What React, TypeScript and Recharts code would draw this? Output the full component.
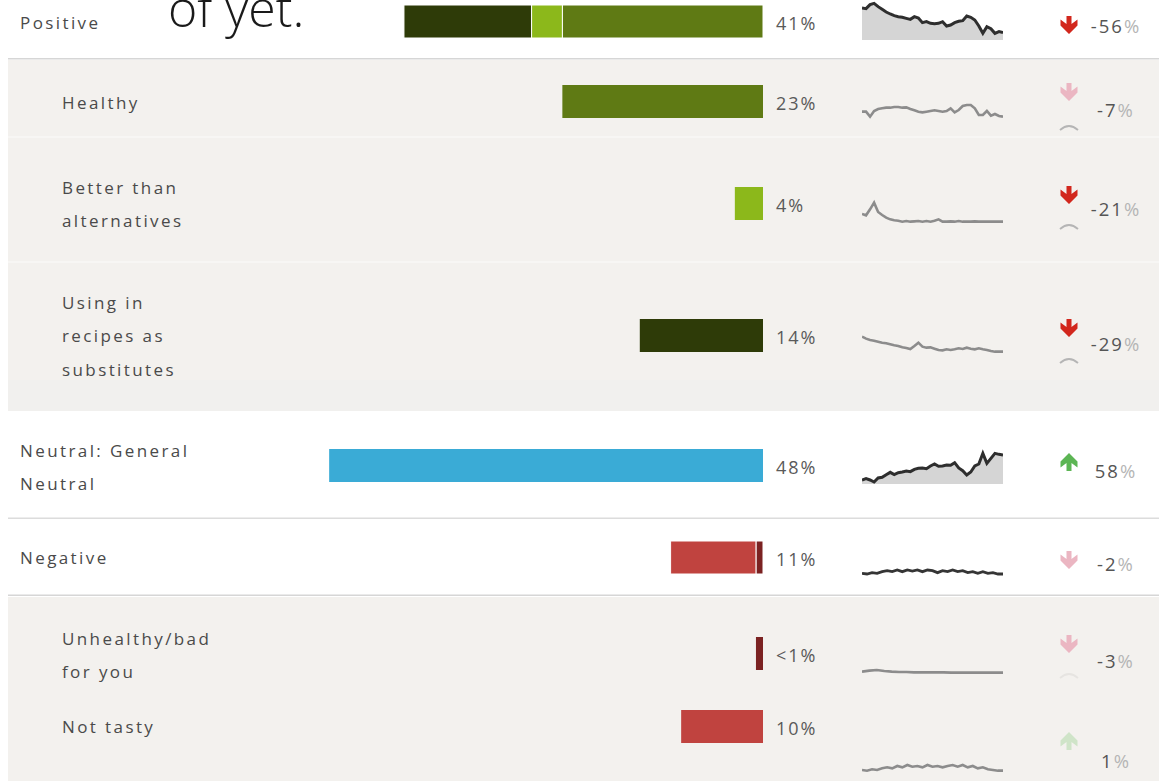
import React from 'react';
import { BarChart, Bar, XAxis, YAxis, AreaChart, Area, LineChart, Line } from 'recharts';

// ---------- DATA ----------
const rowLabels: string[][] = [
  ['Positive'],
  ['Healthy'],
  ['Better than', 'alternatives'],
  ['Using in', 'recipes as', 'substitutes'],
  ['Neutral: General', 'Neutral'],
  ['Negative'],
  ['Unhealthy/bad', 'for you'],
  ['Not tasty'],
];
const shareLabels = ['41%', '23%', '4%', '14%', '48%', '11%', '<1%', '10%'];
const changeValues = ['-56', '-7', '-21', '-29', '58', '-2', '-3', '1'];
const changeDirections = ['down', 'down', 'down', 'down', 'up', 'down', 'down', 'up'];
const changeStrong = [true, false, true, true, true, false, false, false];
const changeConfidenceArc = [false, true, true, true, false, false, true, false];

// bar shares (% of mentions)
const positiveSegments = [22.8, 3.5, 14.5]; // healthy, better than alternatives, recipes
const healthyShare = [22.8];
const betterShare = [3.2];
const recipesShare = [14.0];
const neutralShare = [49.3];
const negativeSegments = [0.8, 9.7]; // unhealthy, not tasty
const unhealthyShare = [0.8];
const notTastyShare = [9.3];

// sparkline trends
const positiveTrend = [96, 94, 106, 110, 100, 92, 84, 78, 73, 70, 68, 65, 62, 70, 66, 52, 55, 50, 49, 50, 55, 42, 45, 52, 56, 58, 72, 68, 60, 42, 20, 40, 34, 20, 25, 22];
const healthyTrend = [40, 40, 25, 42, 48, 50, 52, 52, 54, 54, 52, 53, 48, 44, 40, 38, 40, 42, 44, 42, 40, 42, 50, 38, 45, 57, 60, 60, 50, 30, 30, 42, 28, 33, 27, 25];
const betterTrend = [48, 44, 62, 82, 54, 45, 37, 32, 29, 28, 25, 27, 25, 26, 27, 25, 27, 25, 28, 32, 25, 25, 26, 25, 27, 25, 25, 25, 26, 25, 25, 25, 25, 25, 25, 25];
const recipesTrend = [70, 64, 60, 58, 55, 52, 50, 47, 44, 42, 38, 36, 33, 42, 52, 40, 37, 38, 34, 30, 29, 32, 30, 32, 35, 33, 37, 34, 32, 35, 32, 30, 27, 25, 25, 25];
const neutralTrend = [12, 16, 12, 6, 18, 20, 28, 35, 28, 34, 36, 39, 37, 44, 47, 48, 46, 54, 60, 53, 54, 57, 56, 64, 48, 40, 27, 36, 54, 60, 92, 62, 77, 92, 89, 87];
const negativeTrend = [20, 18, 22, 20, 25, 28, 25, 30, 25, 30, 27, 30, 25, 30, 28, 22, 28, 25, 30, 25, 28, 22, 25, 20, 25, 20, 22, 18, 18];
const unhealthyTrend = [25, 28, 30, 27, 25, 24, 24, 23, 23, 23, 23, 23, 22, 22, 22, 22, 22, 22, 22, 22];
const notTastyTrend = [15, 13, 17, 15, 20, 23, 20, 27, 23, 30, 25, 27, 23, 30, 25, 27, 23, 27, 30, 25, 30, 23, 27, 20, 23, 17, 15, 13, 13];

// ---------- STYLE / LAYOUT ----------
const C_DARK = '#2e3b08';
const C_LIME = '#8cb81b';
const C_GREEN = '#5f7a14';
const C_BLUE = '#3aabd6';
const C_RED = '#c0433f';
const C_DRED = '#7b2222';

const FONT = '"Open Sans", "Noto Sans", sans-serif';

type Seg = { value: number; color: string };
const rowBars: Seg[][] = [
  [
    { value: positiveSegments[0], color: C_GREEN },
    { value: positiveSegments[1], color: C_LIME },
    { value: positiveSegments[2], color: C_DARK },
  ],
  [{ value: healthyShare[0], color: C_GREEN }],
  [{ value: betterShare[0], color: C_LIME }],
  [{ value: recipesShare[0], color: C_DARK }],
  [{ value: neutralShare[0], color: C_BLUE }],
  [
    { value: negativeSegments[0], color: C_DRED },
    { value: negativeSegments[1], color: C_RED },
  ],
  [{ value: unhealthyShare[0], color: C_DRED }],
  [{ value: notTastyShare[0], color: C_RED }],
];

const barTop = [5, 85, 187, 319, 449, 541, 637, 710];
const labelX = [20, 62, 62, 62, 20, 20, 62, 62];
const labelY0 = [22, 102, 187, 302, 450, 557, 638, 726];
const LINE_H = 33.5;

const trends = [positiveTrend, healthyTrend, betterTrend, recipesTrend, neutralTrend, negativeTrend, unhealthyTrend, notTastyTrend];
const sparkTop = [0, 85, 190, 330, 440, 560, 660, 755];
const sparkH = [40, 40, 40, 30, 44, 20, 20, 20];
const sparkMax = [120, 120, 120, 90, 132, 60, 60, 60];
const sparkFilled = [true, false, false, false, true, false, false, false];
const sparkColor = ['#2e2e2e', '#8c8c8c', '#8c8c8c', '#8c8c8c', '#2e2e2e', '#353535', '#8c8c8c', '#8c8c8c'];

const arrowY = [25, 92, 195, 328, 462, 560, 644, 741];
const changeTextY = [25, 109, 208, 343, 470, 563, 660, 760];
const arcY = [0, 127, 226, 360, 0, 0, 675, 0];

const BAR_LEFT = 323;
const BAR_W = 440;
const BAR_H = 33;

function BarRow({ idx }: { idx: number }) {
  const segs = rowBars[idx];
  const datum: Record<string, any> = { name: 'row' };
  segs.forEach((s, i) => (datum['s' + i] = s.value));
  const stacked = segs.length > 1;
  return (
    <div style={{ position: 'absolute', left: BAR_LEFT, top: barTop[idx], width: BAR_W, height: BAR_H }}>
      <BarChart
        width={BAR_W}
        height={BAR_H}
        data={[datum]}
        layout="vertical"
        margin={{ top: 0, right: 0, bottom: 0, left: 0 }}
        barCategoryGap={0}
      >
        <XAxis type="number" domain={[0, 50]} reversed hide />
        <YAxis type="category" dataKey="name" hide />
        {segs.map((s, i) => (
          <Bar
            key={i}
            dataKey={'s' + i}
            stackId="a"
            fill={s.color}
            stroke={stacked ? '#ffffff' : 'none'}
            strokeWidth={stacked ? 1 : 0}
            isAnimationActive={false}
          />
        ))}
      </BarChart>
    </div>
  );
}

function Spark({ idx }: { idx: number }) {
  const data = trends[idx].map((v, i) => ({ i, v }));
  const w = 141;
  const h = sparkH[idx];
  const common = {
    width: w,
    height: h,
    data,
    margin: { top: 0, right: 0, bottom: 0, left: 0 },
  };
  const axes = [
    <XAxis key="x" dataKey="i" type="number" domain={[0, data.length - 1]} hide />,
    <YAxis key="y" type="number" domain={[0, sparkMax[idx]]} hide />,
  ];
  return (
    <div style={{ position: 'absolute', left: 862, top: sparkTop[idx], width: w, height: h, overflow: 'visible' }}>
      {sparkFilled[idx] ? (
        <AreaChart {...common} style={{ overflow: 'visible' }}>
          {axes}
          <Area
            type="linear"
            dataKey="v"
            stroke={sparkColor[idx]}
            strokeWidth={3}
            fill="#d5d5d5"
            fillOpacity={1}
            isAnimationActive={false}
            dot={false}
            activeDot={false}
          />
        </AreaChart>
      ) : (
        <LineChart {...common} style={{ overflow: 'visible' }}>
          {axes}
          <Line
            type="linear"
            dataKey="v"
            stroke={sparkColor[idx]}
            strokeWidth={idx === 5 ? 2.8 : 2.6}
            dot={false}
            activeDot={false}
            isAnimationActive={false}
          />
        </LineChart>
      )}
    </div>
  );
}

function arrowPath(cx: number, cy: number, dir: string) {
  const s = dir === 'down' ? 1 : -1;
  const p = [
    [cx - 2.5, cy - 9 * s],
    [cx + 2.5, cy - 9 * s],
    [cx + 2.5, cy - 1 * s],
    [cx + 8.5, cy - 5.5 * s],
    [cx + 8.5, cy + 0.5 * s],
    [cx, cy + 9 * s],
    [cx - 8.5, cy + 0.5 * s],
    [cx - 8.5, cy - 5.5 * s],
    [cx - 2.5, cy - 1 * s],
  ];
  return 'M' + p.map((q) => q.join(' ')).join(' L') + ' Z';
}

function arrowColor(i: number) {
  if (changeDirections[i] === 'down') return changeStrong[i] ? '#d2271d' : '#ebb6c2';
  return changeStrong[i] ? '#5cb554' : '#cfe4c8';
}

export default function App() {
  return (
    <div
      style={{
        position: 'absolute',
        left: 0,
        top: 0,
        width: 1159,
        height: 781,
        overflow: 'hidden',
        background: '#ffffff',
        fontFamily: FONT,
      }}
    >
      {/* backgrounds */}
      <svg width={1159} height={781} style={{ position: 'absolute', left: 0, top: 0 }}>
        <rect x={8} y={60} width={1151} height={351} fill="#f3f1ee" />
        <rect x={8} y={380} width={1151} height={31} fill="#f1f0ee" />
        <rect x={8} y={597} width={1151} height={184} fill="#f3f1ee" />
        <rect x={8} y={136} width={1151} height={2} fill="#f7f6f4" />
        <rect x={8} y={261} width={1151} height={2} fill="#f7f6f4" />
        <rect x={8} y={58} width={1151} height={1.5} fill="#d6d6d6" />
        <rect x={8} y={517.5} width={1151} height={1.5} fill="#dcdcdc" />
        <rect x={8} y={594.5} width={1151} height={1.5} fill="#d6d6d6" />
      </svg>

      {rowBars.map((_, i) => (
        <BarRow key={'b' + i} idx={i} />
      ))}
      {trends.map((_, i) => (
        <Spark key={'s' + i} idx={i} />
      ))}

      {/* text + indicators */}
      <svg width={1159} height={781} style={{ position: 'absolute', left: 0, top: 0, pointerEvents: 'none' }}>
        {rowLabels.map((lines, i) =>
          lines.map((t, j) => (
            <text
              key={'l' + i + j}
              x={labelX[i]}
              y={labelY0[i] + j * LINE_H}
              dominantBaseline="central"
              fontSize={17}
              letterSpacing={2.4}
              fill="#4a4a4a"
              fontFamily={FONT}
            >
              {t}
            </text>
          ))
        )}
        {shareLabels.map((t, i) => (
          <text
            key={'p' + i}
            x={776}
            y={barTop[i] + BAR_H / 2 + 1}
            dominantBaseline="central"
            fontSize={18}
            letterSpacing={2}
            fill="#5a5a5a"
            fontFamily={FONT}
          >
            {t}
          </text>
        ))}
        {changeValues.map((v, i) => (
          <g key={'c' + i}>
            <path d={arrowPath(1069, arrowY[i], changeDirections[i])} fill={arrowColor(i)} />
            {changeConfidenceArc[i] && (
              <path
                d={`M ${1060} ${arcY[i] + 3} Q ${1069} ${arcY[i] - 5} ${1078} ${arcY[i] + 3}`}
                fill="none"
                stroke={i === 6 ? '#e6e4e1' : '#b5b5b5'}
                strokeWidth={1.8}
              />
            )}
            <text
              x={1116}
              y={changeTextY[i]}
              textAnchor="middle"
              dominantBaseline="central"
              fontSize={18.5}
              letterSpacing={2}
              fontFamily={FONT}
              fill="#555"
            >
              <tspan>{v}</tspan>
              <tspan fill="#b5b5b5">%</tspan>
            </text>
          </g>
        ))}
        <text x={168} y={27} fontSize={50} fontWeight={300} fill="#1a1a1a" fontFamily={FONT}>
          of yet.
        </text>
      </svg>
    </div>
  );
}
